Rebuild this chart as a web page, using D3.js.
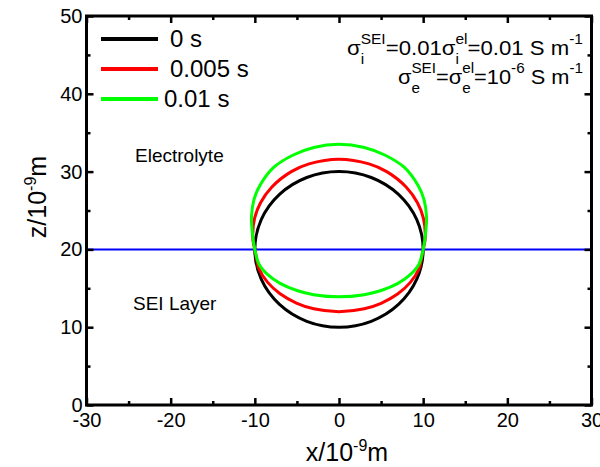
<!DOCTYPE html>
<html>
<head>
<meta charset="utf-8">
<script src="https://cdn.jsdelivr.net/npm/d3@7"></script>
<style>
  html, body { margin: 0; padding: 0; background: #fff; }
  svg { display: block; font-family: Arial, "Liberation Sans", sans-serif; }
</style>
</head>
<body>
<svg id="chart" width="600" height="467"></svg>
<script>
// Axis ticks
const xMajorTicks = [-30, -20, -10, 0, 10, 20, 30];
const xMinorTicks = [-25, -15, -5, 5, 15, 25];
const zMajorTicks = [0, 10, 20, 30, 40, 50];
const zMinorTicks = [5, 15, 25, 35, 45];

// Legend entries
const seriesNames = ["0 s", "0.005 s", "0.01 s"];
const seriesColors = ["#000000", "#ff0000", "#00ff00"];

// Particle outline (x, z) in units of 1e-9 m at each time
const outline0 = [
  [10, 20], [9.24, 23.83], [7.07, 27.07], [3.83, 29.24], [0, 30],
  [-3.83, 29.24], [-7.07, 27.07], [-9.24, 23.83], [-10, 20],
  [-9.24, 16.17], [-7.07, 12.93], [-3.83, 10.76], [0, 10],
  [3.83, 10.76], [7.07, 12.93], [9.24, 16.17]
];
const outline0005 = [
  [0, 12.0], [3, 12.37], [5, 13.07], [7, 14.29], [8.5, 15.79], [9.5, 17.5],
  [10, 20], [10.2, 21], [10.25, 22], [10.03, 24], [9.32, 26], [8.0, 28],
  [5.67, 30], [3.56, 31], [0, 31.6],
  [-3.56, 31], [-5.67, 30], [-8.0, 28], [-9.32, 26], [-10.03, 24],
  [-10.25, 22], [-10.2, 21], [-10, 20], [-9.5, 17.5], [-8.5, 15.79],
  [-7, 14.29], [-5, 13.07], [-3, 12.37]
];
const outline001 = [
  [0, 13.9], [3, 14.18], [5, 14.72], [7, 15.64], [8.5, 16.79], [9.5, 18.1],
  [10, 20], [10.3, 22.2], [10.4, 24.2], [10.1, 26.4], [9.4, 28.2],
  [7.8, 30.5], [5.5, 32.1], [3, 33.1], [0, 33.5],
  [-3, 33.1], [-5.5, 32.1], [-7.8, 30.5], [-9.4, 28.2], [-10.1, 26.4],
  [-10.4, 24.2], [-10.3, 22.2], [-10, 20], [-9.5, 18.1], [-8.5, 16.79],
  [-7, 15.64], [-5, 14.72], [-3, 14.18]
];
const outlines = [outline0, outline0005, outline001];

// SEI / electrolyte interface
const interfaceZ = 20;
const xDomain = [-30, 30];
const zDomain = [0, 50];

const svg = d3.select("#chart");
const plotLeft = 86.5, plotRight = 591.5, plotTop = 16, plotBottom = 405;

const x = d3.scaleLinear().domain(xDomain).range([plotLeft, plotRight]);
const y = d3.scaleLinear().domain(zDomain).range([plotBottom, plotTop]);

const plot = svg.append("g");

// Interface line
plot.append("line")
  .attr("x1", x(xDomain[0])).attr("x2", x(xDomain[1]))
  .attr("y1", y(interfaceZ)).attr("y2", y(interfaceZ))
  .attr("stroke", "#0000ff").attr("stroke-width", 2);

// Outlines
const line = d3.line()
  .x(d => x(d[0])).y(d => y(d[1]))
  .curve(d3.curveCatmullRomClosed.alpha(0.5));

outlines.forEach((pts, i) => {
  plot.append("path")
    .attr("d", line(pts))
    .attr("fill", "none")
    .attr("stroke", seriesColors[i])
    .attr("stroke-width", 3);
});

// Axes with inward ticks on all four sides
function addAxis(axisFn, scale, transform, major, minor, showLabels) {
  const gMaj = svg.append("g").attr("transform", transform)
    .call(axisFn(scale).tickValues(major).tickSizeInner(-7).tickSizeOuter(0).tickPadding(showLabels ? 14 : 0)
      .tickFormat(showLabels ? (d => String(d)) : ""));
  const gMin = svg.append("g").attr("transform", transform)
    .call(axisFn(scale).tickValues(minor).tickSizeInner(-4).tickSizeOuter(0).tickFormat(""));
  [gMaj, gMin].forEach(g => {
    g.select(".domain").remove();
    g.selectAll(".tick line").attr("stroke", "#000").attr("stroke-width", 2.5);
  });
  gMaj.selectAll(".tick text")
    .attr("font-size", 20)
    .attr("fill", "#000")
    .attr("font-family", "Arial, 'Liberation Sans', sans-serif");
  return gMaj;
}

const gx = addAxis(d3.axisBottom, x, `translate(0,${plotBottom})`, xMajorTicks, xMinorTicks, true);
gx.selectAll(".tick text").attr("dy", "0.71em").attr("y", 8);
addAxis(d3.axisTop, x, `translate(0,${plotTop})`, xMajorTicks, xMinorTicks, false);
const gy = addAxis(d3.axisLeft, y, `translate(${plotLeft},0)`, zMajorTicks, zMinorTicks, true);
gy.selectAll(".tick text").attr("x", -4);
addAxis(d3.axisRight, y, `translate(${plotRight},0)`, zMajorTicks, zMinorTicks, false);

// Frame
svg.append("rect")
  .attr("x", plotLeft).attr("y", plotTop)
  .attr("width", plotRight - plotLeft).attr("height", plotBottom - plotTop)
  .attr("fill", "none").attr("stroke", "#000").attr("stroke-width", 3);

// Axis titles
const xt = svg.append("text")
  .attr("x", 347).attr("y", 461)
  .attr("text-anchor", "middle")
  .attr("font-size", 25);
xt.append("tspan").text("x/10");
xt.append("tspan").attr("dy", -10).attr("font-size", 16).text("-9");
xt.append("tspan").attr("dy", 10).text("m");

const yt = svg.append("text")
  .attr("transform", "translate(46,197) rotate(-90)")
  .attr("text-anchor", "middle")
  .attr("font-size", 25);
yt.append("tspan").text("z/10");
yt.append("tspan").attr("dy", -10).attr("font-size", 16).text("-9");
yt.append("tspan").attr("dy", 10).text("m");

// Legend
const legendY = [39, 69, 99];
const legendTextX = [170, 170, 164];
seriesNames.forEach((name, i) => {
  svg.append("line")
    .attr("x1", 101).attr("x2", 158)
    .attr("y1", legendY[i]).attr("y2", legendY[i])
    .attr("stroke", seriesColors[i]).attr("stroke-width", 4);
  svg.append("text")
    .attr("x", legendTextX[i]).attr("y", legendY[i] + 8)
    .attr("font-size", 24)
    .text(name);
});

// Region labels
svg.append("text").attr("x", 135).attr("y", 162).attr("font-size", 19).text("Electrolyte");
svg.append("text").attr("x", 133).attr("y", 310).attr("font-size", 19).text("SEI Layer");

// Conductivity annotation, laid out piece by piece between leftX and rightX.
// role: "base" text, "sup" raised, "sub" lowered and stacked under the preceding sup
function richLine(baseY, leftX, rightX, parts) {
  const g = svg.append("g");
  const inner = g.append("g");
  let cx = 0, supStart = 0, supEnd = 0;
  parts.forEach(p => {
    const size = p.role === "base" ? 20 : 14;
    const shift = p.role === "sup" ? -11 : p.role === "sub" ? 9 : 0;
    const px = p.role === "sub" ? supStart : cx;
    const el = inner.append("text")
      .attr("x", px).attr("y", baseY + shift)
      .attr("font-size", size)
      .text(p.text);
    const w = el.node().getComputedTextLength();
    if (p.role === "sup") { supStart = cx; supEnd = cx + w; cx = supEnd; }
    else if (p.role === "sub") { cx = Math.max(supEnd, px + w); }
    else { cx += w; }
  });
  const k = (rightX - leftX) / cx;
  g.attr("transform", `translate(${leftX},0) scale(${k},1)`);
}

richLine(55, 347, 583, [
  { role: "base", text: "σ" }, { role: "sup", text: "SEI" }, { role: "sub", text: "i" },
  { role: "base", text: "=0.01σ" }, { role: "sup", text: "el" }, { role: "sub", text: "i" },
  { role: "base", text: "=0.01\u00a0S\u00a0m" }, { role: "sup", text: "-1" }
]);
richLine(84, 398, 583, [
  { role: "base", text: "σ" }, { role: "sup", text: "SEI" }, { role: "sub", text: "e" },
  { role: "base", text: "=σ" }, { role: "sup", text: "el" }, { role: "sub", text: "e" },
  { role: "base", text: "=10" }, { role: "sup", text: "-6" },
  { role: "base", text: "\u00a0S\u00a0m" }, { role: "sup", text: "-1" }
]);
</script>
</body>
</html>
